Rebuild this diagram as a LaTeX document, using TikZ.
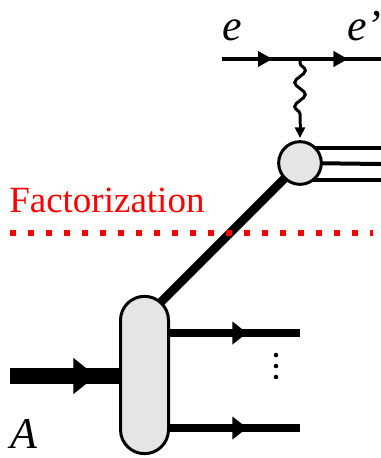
\documentclass[tikz,border=0pt]{standalone}
\usepackage{fontspec}
\setmainfont{Liberation Serif}
\usetikzlibrary{arrows.meta,decorations.markings,decorations.pathmorphing,backgrounds}
\begin{document}
\begin{tikzpicture}[x=0.75pt,y=-0.75pt,
  lepton/.style={line width=3pt},
  hadron/.style={line width=6.5pt},
  beam/.style={line width=12pt},
  blob/.style={draw, line width=2.25pt, fill=black!10, inner sep=0pt},
  dotmark/.style={circle, fill=black, inner sep=0pt, minimum size=3.4pt},
  midarrow/.style 2 args={postaction={decorate},
    decoration={markings, mark=at position #1 with {\arrow{#2}}}},
  lbl/.style={font=\fontsize{33}{33}\selectfont\itshape, inner sep=0pt, anchor=base west}
]
\useasboundingbox (0,0) rectangle (381,458);

% electron line and photon vertex
\coordinate (ein) at (222,59);
\coordinate (eout) at (381,59);
\coordinate (vtx) at (300,59);
\draw[lepton, midarrow={0.315}{Triangle[length=10.5pt,width=11pt]},
      midarrow={0.79}{Triangle[length=10.5pt,width=11pt]}] (ein) -- (eout);
\node[lbl] (le) at (222,40) {e};
\node[lbl] (lep) at (347,40) {e'};

% hadron blobs
\node[blob, circle, minimum size=32pt] (hard) at (300,163) {};
\node[blob, rounded corners=18pt, minimum width=36pt, minimum height=118pt] (soft) at (144.5,375) {};

% photon
\coordinate (gend) at (300,124);
\coordinate (gtip) at (300,138);
\draw[line width=2.25pt, decorate, decoration={snake, segment length=18pt, amplitude=4pt, pre length=3pt, post length=2pt}] (vtx) -- (gend);
\draw[line width=2.25pt, -{Triangle[length=8pt,width=7.5pt]}] (gend) -- (gtip);

% lines behind the blobs
\coordinate (o1) at (381,148);
\coordinate (o2) at (381,164);
\coordinate (o3) at (381,180);
\coordinate (ain) at (10,376);
\coordinate (f1) at (300,333);
\coordinate (f2) at (300,428);
\coordinate (join) at (150,313);
\begin{scope}[on background layer]
  \draw[hadron] (hard.center) -- (join);
  \draw[lepton] (hard.center |- o1) -- (o1);
  \draw[lepton] (hard.center) -- (o2);
  \draw[lepton] (hard.center |- o3) -- (o3);
  \draw[beam, midarrow={0.64}{Triangle[length=17pt,width=26pt]}] (ain) -- (soft.center |- ain);
  \draw[hadron, midarrow={0.66}{Triangle[length=11pt,width=16.5pt]}] (soft.center |- f1) -- (f1);
  \draw[hadron, midarrow={0.66}{Triangle[length=11pt,width=16.5pt]}] (soft.center |- f2) -- (f2);
\end{scope}

% more final-state lines
\node[dotmark] (d1) at (276,355) {};
\node[dotmark] (d2) at (276,366) {};
\node[dotmark] (d3) at (276,377) {};

% factorization boundary
\node[font=\fontsize{27.75}{28}\selectfont, text=red, inner sep=0pt, anchor=base west] (fact) at (9,212) {Factorization};
\coordinate (fl) at (10,233);
\coordinate (fr) at (373,233);
\draw[red, line width=4.5pt, dash pattern=on 4.5pt off 9pt] (fl) -- (fr);

\node[lbl] (la) at (10,448) {A};
\end{tikzpicture}
\end{document}
